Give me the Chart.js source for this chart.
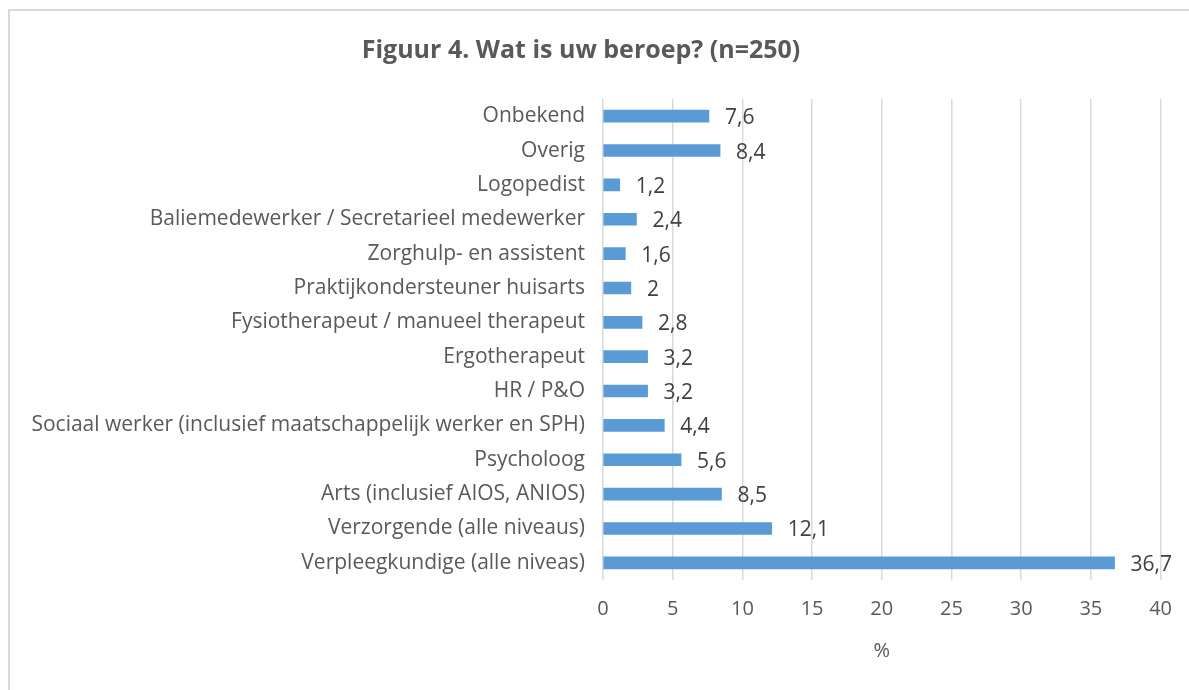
<!DOCTYPE html>
<html>
<head>
<meta charset="utf-8">
<script src="https://cdn.jsdelivr.net/npm/chart.js@4.4.0/dist/chart.umd.min.js"></script>
<style>
  body { margin: 0; background: #fff; }
  #frame { position: absolute; left: 8px; top: 9px; width: 1200px; height: 700px; border: 2px solid #d9d9d9; }
  #wrap { position: absolute; left: 0; top: 0; width: 1189px; height: 690px; }
</style>
</head>
<body>
<div id="frame"></div>
<div id="wrap"><canvas id="beroepChart"></canvas></div>
<script>
// Categories and percentages, top to bottom as in the figure
const beroepen = [
    'Onbekend',
    'Overig',
    'Logopedist',
    'Baliemedewerker / Secretarieel medewerker',
    'Zorghulp- en assistent',
    'Praktijkondersteuner huisarts',
    'Fysiotherapeut / manueel therapeut',
    'Ergotherapeut',
    'HR / P&O',
    'Sociaal werker (inclusief maatschappelijk werker en SPH)',
    'Psycholoog',
    'Arts (inclusief AIOS, ANIOS)',
    'Verzorgende (alle niveaus)',
    'Verpleegkundige (alle niveas)'
];
const percentages = [7.6, 8.4, 1.2, 2.4, 1.6, 2, 2.8, 3.2, 3.2, 4.4, 5.6, 8.5, 12.1, 36.7];
const xTicks = [0, 5, 10, 15, 20, 25, 30, 35, 40];

const fontFamily = '"Open Sans", sans-serif';

// Draw the value next to the end of each bar
const valueLabels = {
    id: 'valueLabels',
    afterDatasetsDraw(chart) {
        const ctx = chart.ctx;
        const meta = chart.getDatasetMeta(0);
        ctx.save();
        ctx.font = '21px ' + fontFamily;
        ctx.fillStyle = '#404040';
        ctx.textBaseline = 'middle';
        ctx.textAlign = 'left';
        meta.data.forEach((bar, i) => {
            const txt = String(percentages[i]).replace('.', ',');
            ctx.fillText(txt, bar.x + 16, bar.y + 2);
        });
        ctx.restore();
    }
};

const ctx = document.getElementById('beroepChart').getContext('2d');
new Chart(ctx, {
    type: 'bar',
    data: {
        labels: beroepen,
        datasets: [{
            data: percentages,
            backgroundColor: '#5B9BD5',
            borderWidth: 0,
            barThickness: 12
        }]
    },
    options: {
        indexAxis: 'y',
        responsive: true,
        maintainAspectRatio: false,
        animation: false,
        layout: { padding: { left: 0, right: 27, top: 0, bottom: 0 } },
        plugins: {
            legend: { display: false },
            tooltip: { enabled: false },
            title: {
                display: true,
                text: 'Figuur 4. Wat is uw beroep? (n=250)',
                color: '#595959',
                font: { family: fontFamily, size: 25, weight: 'bold' },
                padding: { top: 36, bottom: 33 }
            }
        },
        scales: {
            x: {
                min: 0,
                max: 40,
                afterBuildTicks(scale) {
                    scale.ticks = xTicks.map(v => ({ value: v }));
                },
                afterFit(scale) { scale.height = 110; },
                grid: { color: '#d9d9d9', lineWidth: 1.5, drawTicks: false },
                border: { display: false },
                ticks: {
                    color: '#595959',
                    font: { family: fontFamily, size: 20 },
                    padding: 17
                },
                title: {
                    display: true,
                    text: '%',
                    color: '#595959',
                    font: { family: fontFamily, size: 20 },
                    padding: { top: 0, bottom: 27 }
                }
            },
            y: {
                afterFit(scale) { scale.width = 603; },
                grid: { display: false, drawTicks: false },
                border: { display: false },
                ticks: {
                    color: '#595959',
                    font: { family: fontFamily, size: 21 },
                    padding: 18
                }
            }
        }
    },
    plugins: [valueLabels]
});
</script>
</body>
</html>
